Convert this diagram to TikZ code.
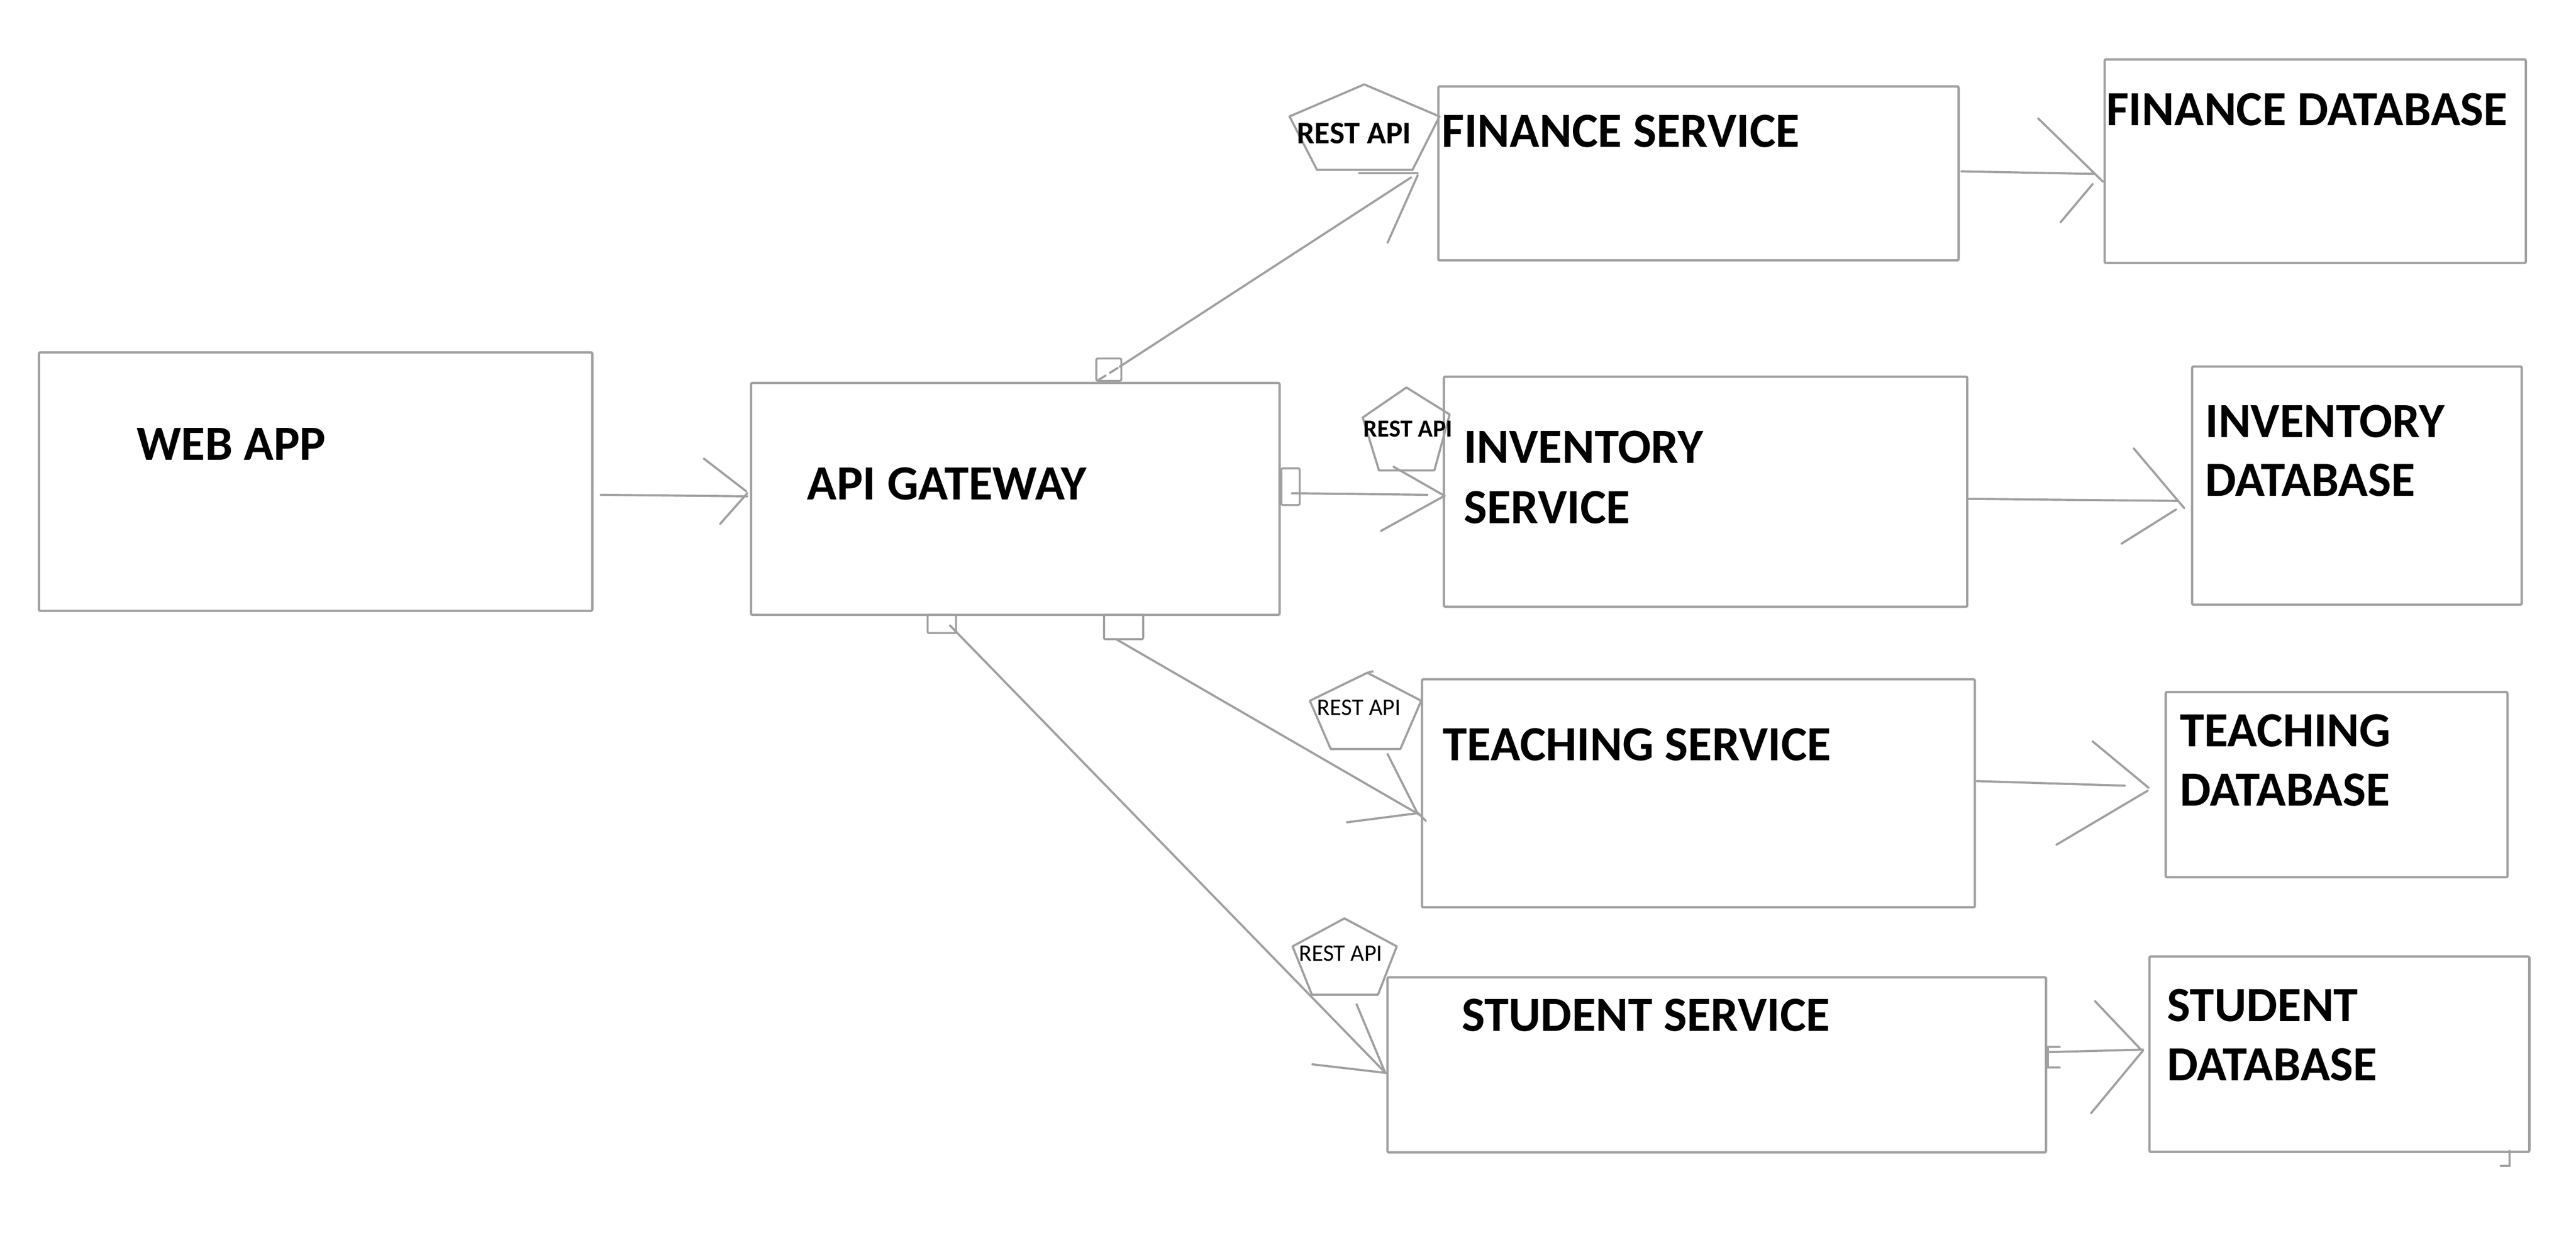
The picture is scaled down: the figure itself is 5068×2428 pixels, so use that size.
\documentclass[tikz,border=0pt]{standalone}
\usepackage{fontspec}
\setmainfont{Carlito}
\definecolor{linegray}{RGB}{160,160,160}
\tikzset{
  box/.style={draw=linegray, line width=1.3pt, rounded corners=0.8pt, inner sep=0pt, outer sep=0pt, rectangle},
  port/.style={box, line width=1.1pt},
  conn/.style={draw=linegray, line width=1.2pt, line cap=round},
  pent/.style={draw=linegray, line width=1.2pt, line join=round},
  lbl/.style={inner sep=0pt, anchor=base west, text=black, font=\bfseries\fontsize{27.5}{33}\selectfont},
  restbig/.style={inner sep=0pt, anchor=base west, font=\bfseries\fontsize{17.6}{20}\selectfont},
  restmid/.style={inner sep=0pt, anchor=base west, font=\bfseries\fontsize{13.7}{16}\selectfont},
  restreg/.style={inner sep=0pt, anchor=base west, font=\fontsize{13.2}{16}\selectfont},
}
\begin{document}
\begin{tikzpicture}[x=0.01cm, y=-0.01cm]
\useasboundingbox (0,0) rectangle (5068,2428);

% ---------- boxes ----------
\node[box, minimum width=10.88cm, minimum height=5.08cm] (web) at (621,947) {};
\node[box, minimum width=10.39cm, minimum height=4.56cm] (api) at (1997.5,981) {};
\node[box, minimum width=10.23cm, minimum height=3.42cm] (fin) at (3341.5,341) {};
\node[box, minimum width=8.28cm, minimum height=4.00cm] (findb) at (4555,317) {};
\node[box, minimum width=10.29cm, minimum height=4.52cm] (inv) at (3355.5,967) {};
\node[box, minimum width=6.48cm, minimum height=4.68cm] (invdb) at (4637,955) {};
\node[box, minimum width=10.87cm, minimum height=4.48cm] (teach) at (3341.5,1560) {};
\node[box, minimum width=6.72cm, minimum height=3.64cm] (teachdb) at (4597,1543) {};
\node[box, minimum width=12.95cm, minimum height=3.44cm] (stud) at (3377.5,2094) {};
\node[box, minimum width=7.47cm, minimum height=3.84cm] (studdb) at (4602.5,2073) {};

% ---------- ports on the gateway ----------
\node[port, minimum width=0.49cm, minimum height=0.44cm] (ptop) at (2181.5,727) {};
\node[port, minimum width=0.36cm, minimum height=0.72cm] (pright) at (2539,957) {};
\node[port, minimum width=0.56cm, minimum height=0.36cm] (pbl) at (1853,1227) {};
\node[port, minimum width=0.77cm, minimum height=0.48cm] (pbr) at (2210.5,1233) {};

% ---------- REST API pentagons ----------
\draw[pent] (2684,166) -- (2832,229) -- (2779,334) -- (2591,334) -- (2537,229) -- cycle;
\draw[pent] (2767,762) -- (2852,815) -- (2822,925) -- (2713,925) -- (2681,821) -- cycle;
\draw[pent] (2690,1323) -- (2796,1378) -- (2755,1473) -- (2618,1473) -- (2577,1378) -- cycle;
\draw[pent] (2690,1323) -- (2702,1320);
\draw[pent] (2645,1806) -- (2748,1861) -- (2711,1956) -- (2581,1956) -- (2543,1861) -- cycle;

\node[restbig] (rfin) at (2551,282) {REST API};
\node[restmid] (rinv) at (2682,859) {REST API};
\node[restreg] (rteach) at (2591,1406) {REST API};
\node[restreg] (rstud) at (2555,1890) {REST API};

% ---------- labels ----------
\node[lbl] (tweb) at (268,905) {WEB APP};
\node[lbl] (tapi) at (1587,983) {API GATEWAY};
\node[lbl] (tfin) at (2836,289) {FINANCE SERVICE};
\node[lbl] (tfindb) at (4143,247) {FINANCE DATABASE};
\node[lbl] (tinv1) at (2879,911) {INVENTORY};
\node[lbl] (tinv2) at (2879,1029) {SERVICE};
\node[lbl] (tinvdb1) at (4338,860) {INVENTORY};
\node[lbl] (tinvdb2) at (4338,976) {DATABASE};
\node[lbl] (tteach) at (2838,1496) {TEACHING SERVICE};
\node[lbl] (tteachdb1) at (4288,1468) {TEACHING};
\node[lbl] (tteachdb2) at (4288,1585) {DATABASE};
\node[lbl] (tstud) at (2875,2028) {STUDENT SERVICE};
\node[lbl] (tstuddb1) at (4263,2008) {STUDENT};
\node[lbl] (tstuddb2) at (4263,2125) {DATABASE};

% ---------- connector points ----------
% web app -> api gateway
\coordinate (s1) at (1182,973);  \coordinate (t1) at (1470,976);
\coordinate (a1) at (1385,902);  \coordinate (a1t) at (1468,966);
\coordinate (b1) at (1417,1030); \coordinate (b1t) at (1470,970);
% gateway -> finance
\coordinate (s2) at (2160,748);  \coordinate (m2) at (2203,721); \coordinate (t2) at (2776,349);
\coordinate (a2) at (2674,341);  \coordinate (a2t) at (2789,341);
\coordinate (b2) at (2730,477);  \coordinate (b2t) at (2789,345);
% gateway -> inventory
\coordinate (s3) at (2542,970);  \coordinate (t3) at (2808,973);
\coordinate (a3) at (2742,918);  \coordinate (b3) at (2717,1044); \coordinate (tip3) at (2842,975);
% gateway -> teaching
\coordinate (s4) at (2196,1257); \coordinate (t4) at (2794,1603);
\coordinate (a4) at (2730,1483); \coordinate (a4t) at (2789,1600);
\coordinate (b4) at (2650,1617); \coordinate (b4t) at (2790,1599);
\coordinate (k4) at (2805,1614);
% gateway -> student
\coordinate (s5) at (1869,1230); \coordinate (t5) at (2725,2109);
\coordinate (a5) at (2669,1975); \coordinate (b5) at (2582,2093); \coordinate (b5t) at (2728,2110);
% finance -> finance db
\coordinate (s6) at (3859,337);  \coordinate (t6) at (4120,342);
\coordinate (a6) at (4010,233);  \coordinate (a6t) at (4137,357);
\coordinate (b6) at (4054,437);  \coordinate (b6t) at (4117,362);
% inventory -> inventory db
\coordinate (s7) at (3873,981);  \coordinate (t7) at (4285,985);
\coordinate (a7) at (4198,882);  \coordinate (a7t) at (4297,999);
\coordinate (b7) at (4174,1069); \coordinate (b7t) at (4281,1002);
% teaching -> teaching db
\coordinate (s8) at (3889,1536); \coordinate (t8) at (4180,1545);
\coordinate (a8) at (4117,1458); \coordinate (a8t) at (4227,1549);
\coordinate (b8) at (4046,1661); \coordinate (b8t) at (4225,1555);
% student -> student db
\coordinate (s9) at (4029,2069); \coordinate (t9) at (4216,2064);
\coordinate (a9) at (4122,1969); \coordinate (a9t) at (4212,2064);
\coordinate (b9) at (4114,2189); \coordinate (b9t) at (4216,2066);
\coordinate (q1) at (4052,2059); \coordinate (q2) at (4029,2059);
\coordinate (q3) at (4029,2099); \coordinate (q4) at (4052,2099);
% corner mark
\coordinate (c1) at (4920,2293); \coordinate (c2) at (4937,2293); \coordinate (c3) at (4937,2263);

% ---------- connectors ----------
\draw[conn] (s1) -- (t1);  \draw[conn] (a1) -- (a1t);  \draw[conn] (b1) -- (b1t);

\draw[conn, dash pattern=on 5pt off 3pt] (s2) -- (m2);
\draw[conn] (m2) -- (t2);  \draw[conn] (a2) -- (a2t);  \draw[conn] (b2) -- (b2t);

\draw[conn] (s3) -- (t3);  \draw[conn] (a3) -- (tip3); \draw[conn] (b3) -- (tip3);

\draw[conn] (s4) -- (t4);  \draw[conn] (a4) -- (a4t);  \draw[conn] (b4) -- (b4t);
\draw[conn] (b4t) -- (k4);

\draw[conn] (s5) -- (t5);  \draw[conn] (a5) -- (t5);   \draw[conn] (b5) -- (b5t);

\draw[conn] (s6) -- (t6);  \draw[conn] (a6) -- (a6t);  \draw[conn] (b6) -- (b6t);
\draw[conn] (s7) -- (t7);  \draw[conn] (a7) -- (a7t);  \draw[conn] (b7) -- (b7t);
\draw[conn] (s8) -- (t8);  \draw[conn] (a8) -- (a8t);  \draw[conn] (b8) -- (b8t);
\draw[conn] (s9) -- (t9);  \draw[conn] (a9) -- (a9t);  \draw[conn] (b9) -- (b9t);
\draw[conn] (q1) -- (q2) -- (q3) -- (q4);
\draw[conn] (c1) -- (c2) -- (c3);
\end{tikzpicture}
\end{document}
